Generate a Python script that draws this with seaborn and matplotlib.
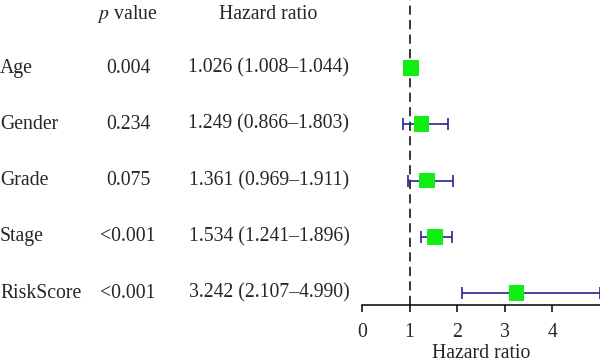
import pandas as pd
import matplotlib
matplotlib.use("Agg")
import matplotlib.pyplot as plt
import matplotlib.transforms as mtransforms
import seaborn as sns

# values
variables = ["Age", "Gender", "Grade", "Stage", "RiskScore"]
p_values = ["0.004", "0.234", "0.075", "<0.001", "<0.001"]
hr = [1.026, 1.249, 1.361, 1.534, 3.242]
hr_low = [1.008, 0.866, 0.969, 1.241, 2.107]
hr_high = [1.044, 1.803, 1.911, 1.896, 4.990]
x_ticks = [0, 1, 2, 3, 4]

df = pd.DataFrame({"var": variables, "p": p_values, "hr": hr,
                   "low": hr_low, "high": hr_high})
df["row"] = range(len(df))

sns.set_style("white")
plt.rcParams["font.family"] = ["Liberation Serif", "DejaVu Serif"]
plt.rcParams["mathtext.fontset"] = "stix"
fs = 14.2

fig = plt.figure(figsize=(6, 3.63), dpi=100)
ax = fig.add_axes([362 / 600, 1 - 305 / 363, 238 / 600, 305 / 363])

# error bars then the squares on top
ax.errorbar(df["hr"], df["row"],
            xerr=[df["hr"] - df["low"], df["high"] - df["hr"]],
            fmt="none", ecolor="#262693", elinewidth=1.2,
            capsize=4.5, capthick=1.2, zorder=2)
sns.scatterplot(data=df, x="hr", y="row", marker="s", s=125,
                color="#11ee11", edgecolor="none", ax=ax, zorder=3)

ax.axvline(1, color="black", linestyle=(0, (6, 3.5)), lw=1.1, zorder=1)

ax.set_xlim(0, 5)
ax.set_ylim(4.213, -1.209)
ax.set_xticks(x_ticks)
ax.set_xticklabels([str(t) for t in x_ticks], fontsize=fs)
ax.set_yticks([])
ax.set_ylabel("")
ax.set_xlabel("Hazard ratio", fontsize=fs, labelpad=1.5)
for s in ["top", "right", "left"]:
    ax.spines[s].set_visible(False)
ax.spines["bottom"].set_linewidth(1.1)
ax.spines["bottom"].set_color("black")
ax.tick_params(axis="x", direction="out", length=5, width=1.1,
               bottom=True, pad=8, color="black")

# text table on the left, x in figure fraction, y in data rows
trans = mtransforms.blended_transform_factory(fig.transFigure, ax.transData)
for i, r in df.iterrows():
    ax.text(0.0, r["row"], r["var"], transform=trans, fontsize=fs,
            ha="left", va="center", clip_on=False)
    ax.text(128 / 600, r["row"], r["p"], transform=trans, fontsize=fs,
            ha="center", va="center", clip_on=False)
    txt = "%.3f (%.3f\u2013%.3f)" % (r["hr"], r["low"], r["high"])
    ax.text(269 / 600, r["row"], txt, transform=trans, fontsize=fs,
            ha="center", va="center", clip_on=False)

ax.text(127 / 600, -0.96, "$p$ value", transform=trans, fontsize=fs,
        ha="center", va="center", clip_on=False)
ax.text(268 / 600, -0.96, "Hazard ratio", transform=trans, fontsize=fs,
        ha="center", va="center", clip_on=False)

fig.savefig("out.png", dpi=100)
